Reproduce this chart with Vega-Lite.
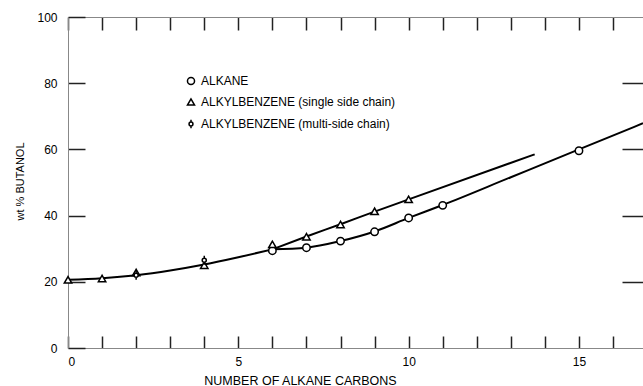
{
  "$schema": "https://vega.github.io/schema/vega-lite/v6.json",
  "width": 575,
  "height": 331,
  "autosize": "none",
  "padding": {"left": 68, "top": 17, "right": 0, "bottom": 38},
  "datasets": {
    "curves": [
      {"curve": "common", "n": 0, "w": 20.6},
      {"curve": "common", "n": 1, "w": 21.1},
      {"curve": "common", "n": 2, "w": 22.0},
      {"curve": "common", "n": 3, "w": 23.4},
      {"curve": "common", "n": 4, "w": 25.2},
      {"curve": "common", "n": 5, "w": 27.4},
      {"curve": "common", "n": 6, "w": 29.8},
      {"curve": "alkane", "n": 6, "w": 29.8},
      {"curve": "alkane", "n": 7, "w": 30.3},
      {"curve": "alkane", "n": 8, "w": 32.3},
      {"curve": "alkane", "n": 9, "w": 35.2},
      {"curve": "alkane", "n": 10, "w": 39.3},
      {"curve": "alkane", "n": 11, "w": 43.2},
      {"curve": "alkane", "n": 13, "w": 51.6},
      {"curve": "alkane", "n": 15, "w": 60.0},
      {"curve": "alkane", "n": 16.88, "w": 67.9},
      {"curve": "benzene", "n": 6, "w": 29.8},
      {"curve": "benzene", "n": 7, "w": 33.7},
      {"curve": "benzene", "n": 8, "w": 37.4},
      {"curve": "benzene", "n": 9, "w": 41.2},
      {"curve": "benzene", "n": 10, "w": 44.9},
      {"curve": "benzene", "n": 13.7, "w": 58.5}
    ],
    "points": [
      {"series": "ALKANE", "n": 6, "w": 29.4},
      {"series": "ALKANE", "n": 7, "w": 30.3},
      {"series": "ALKANE", "n": 8, "w": 32.3},
      {"series": "ALKANE", "n": 9, "w": 35.1},
      {"series": "ALKANE", "n": 10, "w": 39.3},
      {"series": "ALKANE", "n": 11, "w": 43.1},
      {"series": "ALKANE", "n": 15, "w": 59.6},
      {"series": "ALKYLBENZENE (single side chain)", "n": 0, "w": 20.6},
      {"series": "ALKYLBENZENE (single side chain)", "n": 1, "w": 21.0},
      {"series": "ALKYLBENZENE (single side chain)", "n": 2, "w": 22.8},
      {"series": "ALKYLBENZENE (single side chain)", "n": 4, "w": 25.0},
      {"series": "ALKYLBENZENE (single side chain)", "n": 6, "w": 31.3},
      {"series": "ALKYLBENZENE (single side chain)", "n": 7, "w": 33.6},
      {"series": "ALKYLBENZENE (single side chain)", "n": 8, "w": 37.3},
      {"series": "ALKYLBENZENE (single side chain)", "n": 9, "w": 41.3},
      {"series": "ALKYLBENZENE (single side chain)", "n": 10, "w": 44.9},
      {"series": "ALKYLBENZENE (multi-side chain)", "n": 2, "w": 22.0},
      {"series": "ALKYLBENZENE (multi-side chain)", "n": 4, "w": 26.5}
    ]
  },
  "resolve": {"axis": {"x": "independent", "y": "independent"}},
  "layer": [
    {
      "data": {"name": "curves"},
      "mark": {"type": "line", "interpolate": "monotone", "color": "black", "strokeWidth": 2},
      "encoding": {
        "x": {
          "field": "n", "type": "quantitative",
          "scale": {"domain": [0, 16.88], "nice": false, "zero": false},
          "axis": {
            "orient": "bottom", "values": [0, 5, 10, 15], "grid": false, "ticks": false,
            "labelPadding": 8, "labelFontSize": 12,
            "title": "NUMBER OF ALKANE CARBONS", "titleFontSize": 12.5, "titleFontWeight": "normal",
            "titleX": 232, "titleY": 32, "titleAlign": "center", "titleBaseline": "middle"
          }
        },
        "y": {
          "field": "w", "type": "quantitative",
          "scale": {"domain": [0, 100], "nice": false},
          "axis": {
            "orient": "left", "values": [0, 20, 40, 60, 80, 100], "grid": false, "ticks": false,
            "labelPadding": 11, "labelFontSize": 12,
            "title": "wt % BUTANOL", "titleFontSize": 11, "titleFontWeight": "normal",
            "titleX": -48, "titleY": 164, "titleAngle": -90, "titleAlign": "center", "titleBaseline": "middle"
          }
        },
        "detail": {"field": "curve"}
      }
    },
    {
      "data": {"name": "curves"},
      "mark": {"type": "point", "size": 0},
      "encoding": {
        "x": {
          "field": "n", "type": "quantitative",
          "axis": {
            "orient": "top", "values": [0, 1, 2, 3, 4, 5, 6, 7, 8, 9, 10, 11, 12, 13, 14, 15, 16], "grid": false,
            "tickSize": -13, "tickColor": "#222", "tickWidth": 1.5, "labels": false, "title": null
          }
        },
        "y": {
          "field": "w", "type": "quantitative",
          "axis": {
            "orient": "right", "values": [20, 40, 60, 80], "grid": false,
            "tickSize": -21, "tickColor": "#222", "tickWidth": 1.5, "labels": false, "title": null
          }
        }
      }
    },
    {
      "data": {"name": "points"},
      "mark": {"type": "point", "fill": "white", "stroke": "black", "strokeWidth": 1.5, "size": 55, "opacity": 1},
      "encoding": {
        "x": {
          "field": "n", "type": "quantitative",
          "axis": {
            "orient": "bottom", "values": [0, 1, 2, 3, 4, 5, 6, 7, 8, 9, 10, 11, 12, 13, 14, 15, 16], "grid": false,
            "tickSize": -12, "tickColor": "#222", "tickWidth": 1.5, "labels": false, "title": null
          }
        },
        "y": {
          "field": "w", "type": "quantitative",
          "axis": {
            "orient": "left", "values": [0, 20, 40, 60, 80, 100], "grid": false,
            "tickSize": -17, "tickColor": "#222", "tickWidth": 1.5, "labels": false, "title": null
          }
        },
        "shape": {
          "field": "series", "type": "nominal",
          "scale": {
            "domain": ["ALKANE", "ALKYLBENZENE (single side chain)", "ALKYLBENZENE (multi-side chain)"],
            "range": ["circle", "triangle-up", "M0,-1.2L0,-0.55M0,0.55L0,1.2M0.55,0A0.55,0.55,0,1,1,-0.55,0A0.55,0.55,0,1,1,0.55,0Z"]
          },
          "legend": {
            "orient": "none", "legendX": 117, "legendY": 58, "title": null,
            "labelFontSize": 12, "labelLimit": 400, "rowPadding": 7, "symbolSize": 50
          }
        }
      }
    }
  ]
}
